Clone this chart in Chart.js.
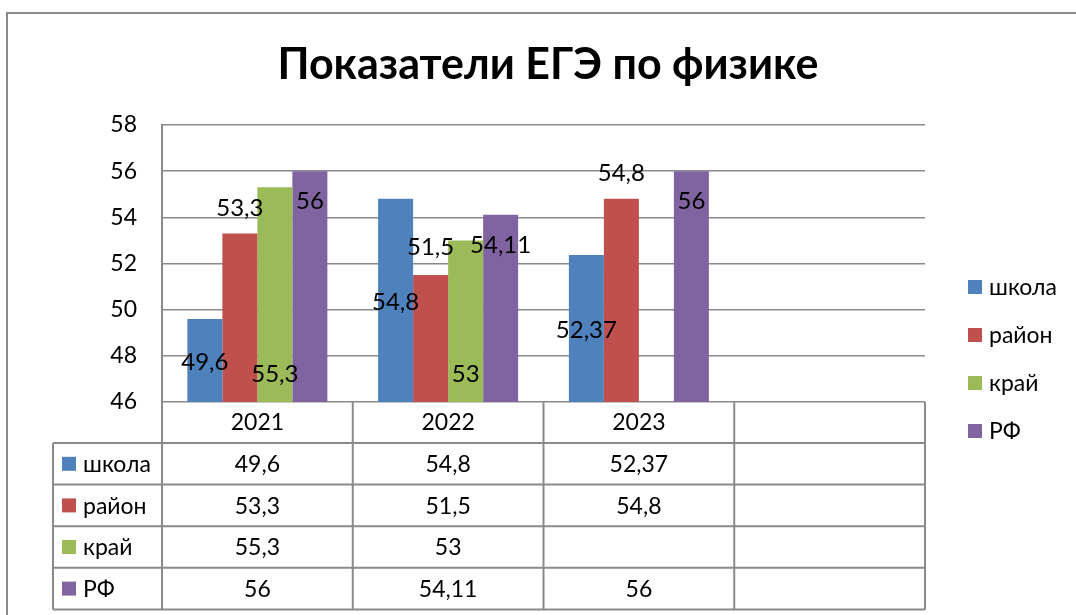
<!DOCTYPE html>
<html>
<head>
<meta charset="utf-8">
<script src="https://cdn.jsdelivr.net/npm/chart.js@4/dist/chart.umd.min.js"></script>
<style>
  html, body { margin: 0; padding: 0; background: #fff; }
</style>
</head>
<body>
<canvas id="egeChart" width="1076" height="615"></canvas>
<script>
// данные диаграммы
const years = ['2021', '2022', '2023', ''];
const seriesNames = ['школа', 'район', 'край', 'РФ'];
const school = [49.6, 54.8, 52.37, null];
const district = [53.3, 51.5, 54.8, null];
const region = [55.3, 53, null, null];
const russia = [56, 54.11, 56, null];
const yTicks = [46, 48, 50, 52, 54, 56, 58];

// где стоят подписи значений (в единицах оси, как на исходной картинке)
const labelAt = [
  [47.7, 50.3, 49.1, null],
  [54.4, 52.7, 55.9, null],
  [47.2, 47.2, null, null],
  [54.7, 52.8, 54.7, null]
];

const colors = ['#4F81BD', '#C0504D', '#9BBB59', '#8064A2'];
const seriesValues = [school, district, region, russia];
const FONT = 'Lato, "Open Sans", sans-serif';
const lineColor = '#8a8a8a';

const fmt = v => (v === null || v === undefined) ? '' : String(v).replace('.', ',');

// рамка, заголовок, подписи, легенда и таблица данных
const extras = {
  id: 'extras',
  afterDraw(chart) {
    const ctx = chart.ctx;
    const area = chart.chartArea;
    const xs = chart.scales.x;
    ctx.save();

    // рамка
    ctx.strokeStyle = lineColor;
    ctx.lineWidth = 2;
    ctx.beginPath();
    ctx.moveTo(7, 615);
    ctx.lineTo(7, 13);
    ctx.lineTo(1076, 13);
    ctx.stroke();

    // заголовок
    ctx.fillStyle = '#000';
    ctx.font = 'bold 43px ' + FONT;
    ctx.textAlign = 'center';
    ctx.textBaseline = 'alphabetic';
    ctx.fillText('Показатели ЕГЭ по физике', 548, 79);

    // подписи значений
    ctx.font = '24px ' + FONT;
    ctx.textBaseline = 'middle';
    seriesValues.forEach((vals, d) => {
      const meta = chart.getDatasetMeta(d);
      vals.forEach((v, i) => {
        if (v === null || labelAt[d][i] === null) return;
        const bar = meta.data[i];
        ctx.fillText(fmt(v), bar.x, chart.scales.y.getPixelForValue(labelAt[d][i]));
      });
    });

    // легенда справа
    ctx.font = '23px ' + FONT;
    ctx.textAlign = 'left';
    seriesNames.forEach((name, d) => {
      const cy = 287 + d * 48;
      ctx.fillStyle = colors[d];
      ctx.fillRect(968, cy - 7, 14, 14);
      ctx.fillStyle = '#000';
      ctx.fillText(name, 989, cy + 1);
    });

    // таблица данных
    const half = (xs.getPixelForTick(1) - xs.getPixelForTick(0)) / 2;
    const bounds = years.map((y, i) => xs.getPixelForTick(i) - half);
    bounds.push(area.right);
    const headTop = area.bottom, rowH = 41.6;
    const tableLeft = 53;
    const rowsTop = headTop + 41;
    const tableBottom = rowsTop + rowH * 4;

    ctx.strokeStyle = lineColor;
    ctx.lineWidth = 2;
    ctx.beginPath();
    bounds.forEach(x => { ctx.moveTo(x, headTop); ctx.lineTo(x, tableBottom); });
    ctx.moveTo(tableLeft, rowsTop); ctx.lineTo(tableLeft, tableBottom);
    for (let r = 0; r <= 4; r++) {
      const y = rowsTop + r * rowH;
      ctx.moveTo(tableLeft, y); ctx.lineTo(area.right, y);
    }
    ctx.stroke();

    ctx.fillStyle = '#000';
    ctx.textAlign = 'center';
    years.forEach((y, i) => ctx.fillText(y, xs.getPixelForTick(i), headTop + 21));
    seriesValues.forEach((vals, d) => {
      const cy = rowsTop + rowH * d + rowH / 2;
      ctx.fillStyle = colors[d];
      ctx.fillRect(62, cy - 7, 14, 14);
      ctx.fillStyle = '#000';
      ctx.textAlign = 'left';
      ctx.fillText(seriesNames[d], 83, cy + 1);
      ctx.textAlign = 'center';
      vals.forEach((v, i) => ctx.fillText(fmt(v), xs.getPixelForTick(i), cy + 1));
    });

    ctx.restore();
  }
};

const ctx = document.getElementById('egeChart').getContext('2d');
new Chart(ctx, {
  type: 'bar',
  data: {
    labels: years,
    datasets: seriesNames.map((name, d) => ({
      label: name,
      data: seriesValues[d],
      backgroundColor: colors[d],
      borderWidth: 0
    }))
  },
  options: {
    responsive: false,
    animation: false,
    devicePixelRatio: 1,
    layout: { padding: { top: 125, left: 0, right: 151, bottom: 213 } },
    datasets: { bar: { barPercentage: 1, categoryPercentage: 0.734 } },
    plugins: { legend: { display: false }, tooltip: { enabled: false } },
    scales: {
      x: { display: false, offset: true },
      y: {
        min: 46,
        max: 58,
        afterBuildTicks: s => { s.ticks = yTicks.map(v => ({ value: v })); },
        afterFit: s => { s.width = 162; },
        grid: { color: lineColor, lineWidth: 1.5, drawTicks: false },
        border: { color: lineColor, width: 2 },
        ticks: { color: '#000', padding: 25, font: { family: FONT, size: 23 } }
      }
    }
  },
  plugins: [extras]
});
</script>
</body>
</html>
